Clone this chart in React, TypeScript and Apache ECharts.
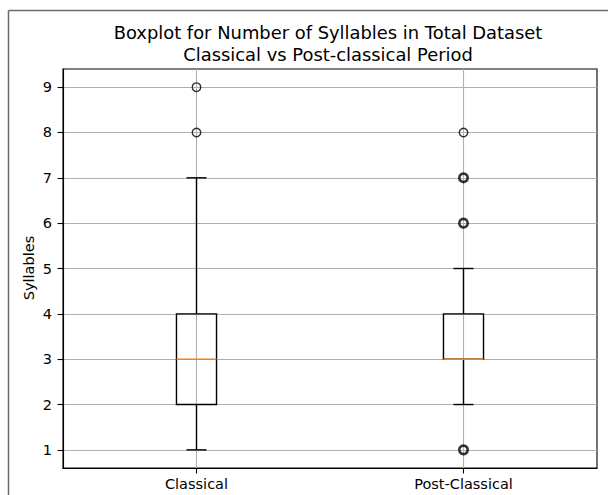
import React, { useEffect, useRef } from 'react';
import * as echarts from 'echarts';

const categories = ['Classical', 'Post-Classical'];
const positions = [1, 2];
// [lower whisker, Q1, median, Q3, upper whisker]
const classicalStats = [1, 2, 3, 4, 7];
const postClassicalStats = [2, 3, 3, 4, 5];
const classicalOutliers = [8, 9];
const classicalOutlierCounts = [1, 1];
const postClassicalOutliers = [1, 6, 7, 8];
const postClassicalOutlierCounts = [3, 3, 3, 1];
const yTicks = [1, 2, 3, 4, 5, 6, 7, 8, 9];
const yLimits = [0.6, 9.4];
const xLimits = [0.5, 2.5];
const titleText = 'Boxplot for Number of Syllables in Total Dataset\nClassical vs Post-classical Period';
const yAxisTitle = 'Syllables';

const FONT = '"DejaVu Sans", "Liberation Sans", sans-serif';
const TICK_FS = 14.5;

export default function App() {
  const ref = useRef<HTMLDivElement>(null);
  useEffect(() => {
    if (!ref.current) return;
    const chart = echarts.init(ref.current, null, { renderer: 'svg' });

    const boxData = [
      [positions[0], ...classicalStats],
      [positions[1], ...postClassicalStats],
    ];
    const outlierData: any[] = [];
    classicalOutliers.forEach((v, i) => {
      outlierData.push({ value: [positions[0], v], itemStyle: { borderWidth: classicalOutlierCounts[i] > 1 ? 2.6 : 1.4 } });
    });
    postClassicalOutliers.forEach((v, i) => {
      outlierData.push({ value: [positions[1], v], itemStyle: { borderWidth: postClassicalOutlierCounts[i] > 1 ? 2.6 : 1.4 } });
    });

    const lineStyle = { stroke: '#000', lineWidth: 1.4, fill: 'none' };

    chart.setOption({
      animation: false,
      backgroundColor: '#fff',
      grid: {
        left: 63, right: 11, top: 69, bottom: 27,
        show: true, borderColor: '#000', borderWidth: 1.1, backgroundColor: 'transparent',
      },
      xAxis: {
        type: 'value',
        min: xLimits[0], max: xLimits[1],
        axisLine: { show: true, onZero: false, lineStyle: { color: '#000', width: 1.1 } },
        axisTick: { show: true, length: 5.5, customValues: positions, lineStyle: { color: '#000', width: 1.1 } },
        axisLabel: {
          customValues: positions, margin: 8, color: '#000', fontFamily: FONT, fontSize: TICK_FS,
          formatter: (v: number) => categories[positions.indexOf(v)] ?? '',
        },
        splitLine: { show: true, customValues: positions, lineStyle: { color: '#b0b0b0', width: 1.1 } },
      },
      yAxis: {
        type: 'value',
        min: yLimits[0], max: yLimits[1],
        axisLine: { show: true, onZero: false, lineStyle: { color: '#000', width: 1.1 } },
        axisTick: { show: true, length: 5.5, customValues: yTicks, lineStyle: { color: '#000', width: 1.1 } },
        axisLabel: { customValues: yTicks, margin: 11, color: '#000', fontFamily: FONT, fontSize: TICK_FS },
        splitLine: { show: true, customValues: yTicks, lineStyle: { color: '#b0b0b0', width: 1.1 } },
      },
      graphic: [
        { type: 'line', shape: { x1: 8.5, y1: 10.5, x2: 8.5, y2: 495 }, style: { stroke: '#6b6b6b', lineWidth: 1.5 } },
        { type: 'line', shape: { x1: 8.5, y1: 10.5, x2: 608, y2: 10.5 }, style: { stroke: '#6b6b6b', lineWidth: 1.5 } },
        {
          type: 'text', x: 328, y: 43.5,
          style: { text: titleText, textAlign: 'center', textVerticalAlign: 'middle', font: `17.9px ${FONT}`, lineHeight: 21.5, fill: '#000' },
        },
        {
          type: 'text', x: 29, y: 268, rotation: Math.PI / 2,
          style: { text: yAxisTitle, textAlign: 'center', textVerticalAlign: 'middle', font: `${TICK_FS}px ${FONT}`, fill: '#000' },
        },
      ],
      series: [
        {
          type: 'custom',
          data: boxData,
          encode: { x: 0, y: [1, 2, 3, 4, 5] },
          z: 3,
          renderItem: (params: any, api: any) => {
            const x = api.value(0);
            const lo = api.value(1), q1 = api.value(2), med = api.value(3), q3 = api.value(4), hi = api.value(5);
            const halfBox = api.size([0.15, 0])[0] / 2;
            const halfCap = halfBox / 2;
            const pLo = api.coord([x, lo]);
            const pQ1 = api.coord([x, q1]);
            const pMed = api.coord([x, med]);
            const pQ3 = api.coord([x, q3]);
            const pHi = api.coord([x, hi]);
            const cx = pLo[0];
            return {
              type: 'group',
              children: [
                { type: 'line', shape: { x1: cx, y1: pLo[1], x2: cx, y2: pQ1[1] }, style: lineStyle },
                { type: 'line', shape: { x1: cx, y1: pQ3[1], x2: cx, y2: pHi[1] }, style: lineStyle },
                { type: 'line', shape: { x1: cx - halfCap, y1: pLo[1], x2: cx + halfCap, y2: pLo[1] }, style: lineStyle },
                { type: 'line', shape: { x1: cx - halfCap, y1: pHi[1], x2: cx + halfCap, y2: pHi[1] }, style: lineStyle },
                { type: 'rect', shape: { x: cx - halfBox, y: pQ3[1], width: 2 * halfBox, height: pQ1[1] - pQ3[1] }, style: lineStyle },
                { type: 'line', shape: { x1: cx - halfBox, y1: pMed[1], x2: cx + halfBox, y2: pMed[1] }, style: { stroke: '#ff7f0e', lineWidth: 1.4 } },
              ],
            };
          },
        },
        {
          type: 'scatter',
          data: outlierData,
          symbol: 'circle',
          symbolSize: 8.5,
          z: 4,
          itemStyle: { color: 'transparent', borderColor: '#000', borderWidth: 1.4 },
        },
      ],
    });
    return () => chart.dispose();
  }, []);
  return <div ref={ref} style={{ position: 'fixed', left: 0, top: 0, width: 608, height: 495 }} />;
}
